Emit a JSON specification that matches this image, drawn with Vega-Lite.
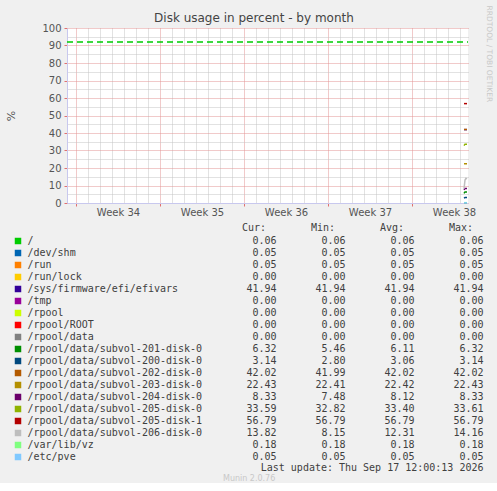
{
  "$schema": "https://vega.github.io/schema/vega-lite/v6.json",
  "background": "#f0f0f0",
  "padding": {"left": 5, "top": 5, "right": 0, "bottom": 0},
  "config": {
    "view": {"stroke": null},
    "font": "DejaVu Sans",
    "axis": {"labelFont": "DejaVu Sans", "titleFont": "DejaVu Sans", "titleFontWeight": "normal"},
    "title": {"font": "DejaVu Sans", "fontWeight": "normal"}
  },
  "datasets": {
    "thresholds": [
      {"name": "/", "warning": 92, "from": "2026-08-15T06:00:00Z", "to": "2026-09-17T16:00:00Z"}
    ],
    "series": [
      {"name": "/", "time": "2026-09-17T08:00:00Z", "pct": 0.06},
      {"name": "/", "time": "2026-09-17T10:00:00Z", "pct": 0.06},
      {"name": "/", "time": "2026-09-17T12:00:00Z", "pct": 0.06},
      {"name": "/", "time": "2026-09-17T14:00:00Z", "pct": 0.06},
      {"name": "/dev/shm", "time": "2026-09-17T08:00:00Z", "pct": 0.05},
      {"name": "/dev/shm", "time": "2026-09-17T10:00:00Z", "pct": 0.05},
      {"name": "/dev/shm", "time": "2026-09-17T12:00:00Z", "pct": 0.05},
      {"name": "/dev/shm", "time": "2026-09-17T14:00:00Z", "pct": 0.05},
      {"name": "/run", "time": "2026-09-17T08:00:00Z", "pct": 0.05},
      {"name": "/run", "time": "2026-09-17T10:00:00Z", "pct": 0.05},
      {"name": "/run", "time": "2026-09-17T12:00:00Z", "pct": 0.05},
      {"name": "/run", "time": "2026-09-17T14:00:00Z", "pct": 0.05},
      {"name": "/run/lock", "time": "2026-09-17T08:00:00Z", "pct": 0},
      {"name": "/run/lock", "time": "2026-09-17T10:00:00Z", "pct": 0},
      {"name": "/run/lock", "time": "2026-09-17T12:00:00Z", "pct": 0},
      {"name": "/run/lock", "time": "2026-09-17T14:00:00Z", "pct": 0},
      {"name": "/sys/firmware/efi/efivars", "time": "2026-09-17T08:00:00Z", "pct": 41.94},
      {"name": "/sys/firmware/efi/efivars", "time": "2026-09-17T10:00:00Z", "pct": 41.94},
      {"name": "/sys/firmware/efi/efivars", "time": "2026-09-17T12:00:00Z", "pct": 41.94},
      {"name": "/sys/firmware/efi/efivars", "time": "2026-09-17T14:00:00Z", "pct": 41.94},
      {"name": "/tmp", "time": "2026-09-17T08:00:00Z", "pct": 0},
      {"name": "/tmp", "time": "2026-09-17T10:00:00Z", "pct": 0},
      {"name": "/tmp", "time": "2026-09-17T12:00:00Z", "pct": 0},
      {"name": "/tmp", "time": "2026-09-17T14:00:00Z", "pct": 0},
      {"name": "/rpool", "time": "2026-09-17T08:00:00Z", "pct": 0},
      {"name": "/rpool", "time": "2026-09-17T10:00:00Z", "pct": 0},
      {"name": "/rpool", "time": "2026-09-17T12:00:00Z", "pct": 0},
      {"name": "/rpool", "time": "2026-09-17T14:00:00Z", "pct": 0},
      {"name": "/rpool/ROOT", "time": "2026-09-17T08:00:00Z", "pct": 0},
      {"name": "/rpool/ROOT", "time": "2026-09-17T10:00:00Z", "pct": 0},
      {"name": "/rpool/ROOT", "time": "2026-09-17T12:00:00Z", "pct": 0},
      {"name": "/rpool/ROOT", "time": "2026-09-17T14:00:00Z", "pct": 0},
      {"name": "/rpool/data", "time": "2026-09-17T08:00:00Z", "pct": 0},
      {"name": "/rpool/data", "time": "2026-09-17T10:00:00Z", "pct": 0},
      {"name": "/rpool/data", "time": "2026-09-17T12:00:00Z", "pct": 0},
      {"name": "/rpool/data", "time": "2026-09-17T14:00:00Z", "pct": 0},
      {"name": "/rpool/data/subvol-201-disk-0", "time": "2026-09-17T08:00:00Z", "pct": 5.46},
      {"name": "/rpool/data/subvol-201-disk-0", "time": "2026-09-17T10:00:00Z", "pct": 6.32},
      {"name": "/rpool/data/subvol-201-disk-0", "time": "2026-09-17T12:00:00Z", "pct": 6.32},
      {"name": "/rpool/data/subvol-201-disk-0", "time": "2026-09-17T14:00:00Z", "pct": 6.32},
      {"name": "/rpool/data/subvol-200-disk-0", "time": "2026-09-17T08:00:00Z", "pct": 2.80},
      {"name": "/rpool/data/subvol-200-disk-0", "time": "2026-09-17T10:00:00Z", "pct": 3.14},
      {"name": "/rpool/data/subvol-200-disk-0", "time": "2026-09-17T12:00:00Z", "pct": 3.14},
      {"name": "/rpool/data/subvol-200-disk-0", "time": "2026-09-17T14:00:00Z", "pct": 3.14},
      {"name": "/rpool/data/subvol-202-disk-0", "time": "2026-09-17T08:00:00Z", "pct": 41.99},
      {"name": "/rpool/data/subvol-202-disk-0", "time": "2026-09-17T10:00:00Z", "pct": 42.02},
      {"name": "/rpool/data/subvol-202-disk-0", "time": "2026-09-17T12:00:00Z", "pct": 42.02},
      {"name": "/rpool/data/subvol-202-disk-0", "time": "2026-09-17T14:00:00Z", "pct": 42.02},
      {"name": "/rpool/data/subvol-203-disk-0", "time": "2026-09-17T08:00:00Z", "pct": 22.41},
      {"name": "/rpool/data/subvol-203-disk-0", "time": "2026-09-17T10:00:00Z", "pct": 22.42},
      {"name": "/rpool/data/subvol-203-disk-0", "time": "2026-09-17T12:00:00Z", "pct": 22.43},
      {"name": "/rpool/data/subvol-203-disk-0", "time": "2026-09-17T14:00:00Z", "pct": 22.43},
      {"name": "/rpool/data/subvol-204-disk-0", "time": "2026-09-17T08:00:00Z", "pct": 7.48},
      {"name": "/rpool/data/subvol-204-disk-0", "time": "2026-09-17T10:00:00Z", "pct": 8.33},
      {"name": "/rpool/data/subvol-204-disk-0", "time": "2026-09-17T12:00:00Z", "pct": 8.33},
      {"name": "/rpool/data/subvol-204-disk-0", "time": "2026-09-17T14:00:00Z", "pct": 8.33},
      {"name": "/rpool/data/subvol-205-disk-0", "time": "2026-09-17T08:00:00Z", "pct": 32.82},
      {"name": "/rpool/data/subvol-205-disk-0", "time": "2026-09-17T10:00:00Z", "pct": 33.61},
      {"name": "/rpool/data/subvol-205-disk-0", "time": "2026-09-17T12:00:00Z", "pct": 33.59},
      {"name": "/rpool/data/subvol-205-disk-0", "time": "2026-09-17T14:00:00Z", "pct": 33.59},
      {"name": "/rpool/data/subvol-205-disk-1", "time": "2026-09-17T08:00:00Z", "pct": 56.79},
      {"name": "/rpool/data/subvol-205-disk-1", "time": "2026-09-17T10:00:00Z", "pct": 56.79},
      {"name": "/rpool/data/subvol-205-disk-1", "time": "2026-09-17T12:00:00Z", "pct": 56.79},
      {"name": "/rpool/data/subvol-205-disk-1", "time": "2026-09-17T14:00:00Z", "pct": 56.79},
      {"name": "/rpool/data/subvol-206-disk-0", "time": "2026-09-17T08:00:00Z", "pct": 8.15},
      {"name": "/rpool/data/subvol-206-disk-0", "time": "2026-09-17T10:00:00Z", "pct": 13.11},
      {"name": "/rpool/data/subvol-206-disk-0", "time": "2026-09-17T12:00:00Z", "pct": 14.16},
      {"name": "/rpool/data/subvol-206-disk-0", "time": "2026-09-17T14:00:00Z", "pct": 13.82},
      {"name": "/var/lib/vz", "time": "2026-09-17T08:00:00Z", "pct": 0.18},
      {"name": "/var/lib/vz", "time": "2026-09-17T10:00:00Z", "pct": 0.18},
      {"name": "/var/lib/vz", "time": "2026-09-17T12:00:00Z", "pct": 0.18},
      {"name": "/var/lib/vz", "time": "2026-09-17T14:00:00Z", "pct": 0.18},
      {"name": "/etc/pve", "time": "2026-09-17T08:00:00Z", "pct": 0.05},
      {"name": "/etc/pve", "time": "2026-09-17T10:00:00Z", "pct": 0.05},
      {"name": "/etc/pve", "time": "2026-09-17T12:00:00Z", "pct": 0.05},
      {"name": "/etc/pve", "time": "2026-09-17T14:00:00Z", "pct": 0.05}
    ],
    "legend": [
      {"name": "/", "Cur": 0.06, "Min": 0.06, "Avg": 0.06, "Max": 0.06},
      {"name": "/dev/shm", "Cur": 0.05, "Min": 0.05, "Avg": 0.05, "Max": 0.05},
      {"name": "/run", "Cur": 0.05, "Min": 0.05, "Avg": 0.05, "Max": 0.05},
      {"name": "/run/lock", "Cur": 0.00, "Min": 0.00, "Avg": 0.00, "Max": 0.00},
      {"name": "/sys/firmware/efi/efivars", "Cur": 41.94, "Min": 41.94, "Avg": 41.94, "Max": 41.94},
      {"name": "/tmp", "Cur": 0.00, "Min": 0.00, "Avg": 0.00, "Max": 0.00},
      {"name": "/rpool", "Cur": 0.00, "Min": 0.00, "Avg": 0.00, "Max": 0.00},
      {"name": "/rpool/ROOT", "Cur": 0.00, "Min": 0.00, "Avg": 0.00, "Max": 0.00},
      {"name": "/rpool/data", "Cur": 0.00, "Min": 0.00, "Avg": 0.00, "Max": 0.00},
      {"name": "/rpool/data/subvol-201-disk-0", "Cur": 6.32, "Min": 5.46, "Avg": 6.11, "Max": 6.32},
      {"name": "/rpool/data/subvol-200-disk-0", "Cur": 3.14, "Min": 2.80, "Avg": 3.06, "Max": 3.14},
      {"name": "/rpool/data/subvol-202-disk-0", "Cur": 42.02, "Min": 41.99, "Avg": 42.02, "Max": 42.02},
      {"name": "/rpool/data/subvol-203-disk-0", "Cur": 22.43, "Min": 22.41, "Avg": 22.42, "Max": 22.43},
      {"name": "/rpool/data/subvol-204-disk-0", "Cur": 8.33, "Min": 7.48, "Avg": 8.12, "Max": 8.33},
      {"name": "/rpool/data/subvol-205-disk-0", "Cur": 33.59, "Min": 32.82, "Avg": 33.40, "Max": 33.61},
      {"name": "/rpool/data/subvol-205-disk-1", "Cur": 56.79, "Min": 56.79, "Avg": 56.79, "Max": 56.79},
      {"name": "/rpool/data/subvol-206-disk-0", "Cur": 13.82, "Min": 8.15, "Avg": 12.31, "Max": 14.16},
      {"name": "/var/lib/vz", "Cur": 0.18, "Min": 0.18, "Avg": 0.18, "Max": 0.18},
      {"name": "/etc/pve", "Cur": 0.05, "Min": 0.05, "Avg": 0.05, "Max": 0.05}
    ]
  },
  "concat": [
    {
      "width": 401,
      "height": 175,
      "view": {"fill": "#ffffff", "stroke": null},
      "title": {"text": "Disk usage in percent - by month", "fontSize": 12, "color": "#444444", "anchor": "middle", "frame": "bounds", "offset": -20},
      "resolve": {"axis": {"y": "independent"}},
      "layer": [
        {
          "data": {"name": "series"},
          "mark": {"type": "line", "strokeWidth": 1.5},
          "encoding": {
            "x": {
              "field": "time", "type": "temporal",
              "scale": {"type": "utc", "domain": [{"year": 2026, "month": 8, "date": 15, "hours": 6, "utc": true}, {"year": 2026, "month": 9, "date": 17, "hours": 16, "utc": true}]},
              "axis": {
                "orient": "bottom", "title": null,
                "tickCount": {"interval": "day", "step": 1},
                "grid": true, "gridDash": [1, 1],
                "gridColor": {"condition": {"test": "utcday(datum.value) === 0", "value": "#e39494"}, "value": "#c4c4c4"},
                "tickColor": {"condition": {"test": "utcday(datum.value) === 0", "value": "#e07070"}, "value": "transparent"},
                "tickSize": 3, "domainColor": "#c8c8ee",
                "labelOffset": 42,
                "labelExpr": "utcday(datum.value) === 0 ? 'Week ' + utcFormat(time(datum.value) + 302400000, '%V') : ''",
                "labelFontSize": 10, "labelColor": "#555555", "labelPadding": 1, "labelFlush": false, "labelOverlap": false
              }
            },
            "y": {
              "field": "pct", "type": "quantitative",
              "scale": {"domain": [0, 100], "nice": false},
              "axis": {
                "orient": "left", "values": [0, 5, 10, 15, 20, 25, 30, 35, 40, 45, 50, 55, 60, 65, 70, 75, 80, 85, 90, 95, 100],
                "grid": true, "gridDash": [1, 1],
                "gridColor": {"condition": {"test": "datum.value % 10 === 0", "value": "#e39494"}, "value": "#c4c4c4"},
                "tickColor": {"condition": {"test": "datum.value % 10 === 0", "value": "#e07070"}, "value": "transparent"},
                "tickSize": 3, "domainColor": "#c8c8ee",
                "labelExpr": "datum.value % 10 === 0 ? datum.label : ''",
                "labelFontSize": 10, "labelColor": "#555555", "labelPadding": 3,
                "title": "%", "titleFontSize": 11, "titleColor": "#555555", "titlePadding": 25
              }
            },
            "color": {
              "field": "name", "type": "nominal", "legend": null,
              "scale": {
                "domain": ["/", "/dev/shm", "/run", "/run/lock", "/sys/firmware/efi/efivars", "/tmp", "/rpool", "/rpool/ROOT", "/rpool/data", "/rpool/data/subvol-201-disk-0", "/rpool/data/subvol-200-disk-0", "/rpool/data/subvol-202-disk-0", "/rpool/data/subvol-203-disk-0", "/rpool/data/subvol-204-disk-0", "/rpool/data/subvol-205-disk-0", "/rpool/data/subvol-205-disk-1", "/rpool/data/subvol-206-disk-0", "/var/lib/vz", "/etc/pve"],
                "range": ["#00cc00", "#0066b3", "#ff8000", "#ffcc00", "#330099", "#990099", "#ccff00", "#ff0000", "#808080", "#008f00", "#00487d", "#b35a00", "#b38f00", "#6b006b", "#8fb300", "#b30000", "#bebebe", "#80ff80", "#80c9ff"]
              }
            }
          }
        },
        {
          "data": {"name": "thresholds"},
          "mark": {"type": "rule", "color": "#00cc00", "strokeDash": [6, 4], "strokeWidth": 1.5},
          "encoding": {
            "x": {"field": "from", "type": "temporal"},
            "x2": {"field": "to"},
            "y": {
              "field": "warning", "type": "quantitative",
              "scale": {"domain": [0, 100], "nice": false},
              "axis": {"orient": "right", "grid": false, "labels": false, "ticks": false, "domain": false, "title": "RRDTOOL / TOBI OETIKER", "titleAngle": 90, "titleFontSize": 7.5, "titleColor": "#c8c8c8", "titleAlign": "left", "titleBaseline": "middle", "titleX": 20.5, "titleY": -23}
            }
          }
        }
      ]
    },
    {
      "hconcat": [
        {
          "width": 9.5,
          "height": 216,
          "data": {"name": "legend"},
          "encoding": {
            "y": {"field": "name", "type": "nominal", "sort": null, "scale": {"type": "point", "padding": 0}, "axis": null}
          },
          "layer": [
            {
              "mark": {"type": "square", "filled": true, "size": 42, "opacity": 1, "xOffset": -49},
              "encoding": {
                "x": {"datum": "swatch", "type": "nominal", "scale": {"type": "point", "padding": 0, "domain": ["swatch", "label"]}, "axis": null},
                "color": {
                  "field": "name", "type": "nominal", "legend": null,
                  "scale": {
                    "domain": ["/", "/dev/shm", "/run", "/run/lock", "/sys/firmware/efi/efivars", "/tmp", "/rpool", "/rpool/ROOT", "/rpool/data", "/rpool/data/subvol-201-disk-0", "/rpool/data/subvol-200-disk-0", "/rpool/data/subvol-202-disk-0", "/rpool/data/subvol-203-disk-0", "/rpool/data/subvol-204-disk-0", "/rpool/data/subvol-205-disk-0", "/rpool/data/subvol-205-disk-1", "/rpool/data/subvol-206-disk-0", "/var/lib/vz", "/etc/pve"],
                    "range": ["#00cc00", "#0066b3", "#ff8000", "#ffcc00", "#330099", "#990099", "#ccff00", "#ff0000", "#808080", "#008f00", "#00487d", "#b35a00", "#b38f00", "#6b006b", "#8fb300", "#b30000", "#bebebe", "#80ff80", "#80c9ff"]
                  }
                }
              }
            },
            {
              "mark": {"type": "text", "align": "left", "baseline": "middle", "font": "DejaVu Sans Mono", "fontSize": 10, "color": "#404040", "xOffset": -49},
              "encoding": {
                "x": {"datum": "label", "type": "nominal", "axis": null},
                "text": {"field": "name", "type": "nominal"}
              }
            }
          ]
        },
        {
          "width": 207,
          "height": 216,
          "data": {"name": "legend"},
          "transform": [{"fold": ["Cur", "Min", "Avg", "Max"], "as": ["stat", "val"]}],
          "title": {"text": "Last update: Thu Sep 17 12:00:13 2026", "orient": "bottom", "anchor": "end", "font": "DejaVu Sans Mono", "fontSize": 10, "color": "#404040", "offset": 1},
          "mark": {"type": "text", "align": "right", "baseline": "middle", "font": "DejaVu Sans Mono", "fontSize": 10, "color": "#404040"},
          "encoding": {
            "x": {
              "field": "stat", "type": "nominal", "sort": ["Cur", "Min", "Avg", "Max"],
              "scale": {"type": "point", "padding": 0},
              "axis": {"orient": "top", "title": null, "ticks": false, "domain": false, "labelAngle": 0, "labelFont": "DejaVu Sans Mono", "labelFontSize": 10, "labelColor": "#404040", "labelAlign": "right", "labelOffset": -11, "labelPadding": 9, "labelExpr": "datum.value + ':'"}
            },
            "y": {"field": "name", "type": "nominal", "sort": null, "scale": {"type": "point", "padding": 0}, "axis": null},
            "text": {"field": "val", "type": "quantitative", "format": ".2f"}
          }
        }
      ],
      "spacing": 199.5,
      "bounds": "flush",
      "title": {"text": "Munin 2.0.76", "orient": "bottom", "anchor": "middle", "frame": "bounds", "fontSize": 8, "color": "#c8c8c8", "offset": 2}
    }
  ],
  "columns": 1,
  "align": "none",
  "spacing": 5
}
